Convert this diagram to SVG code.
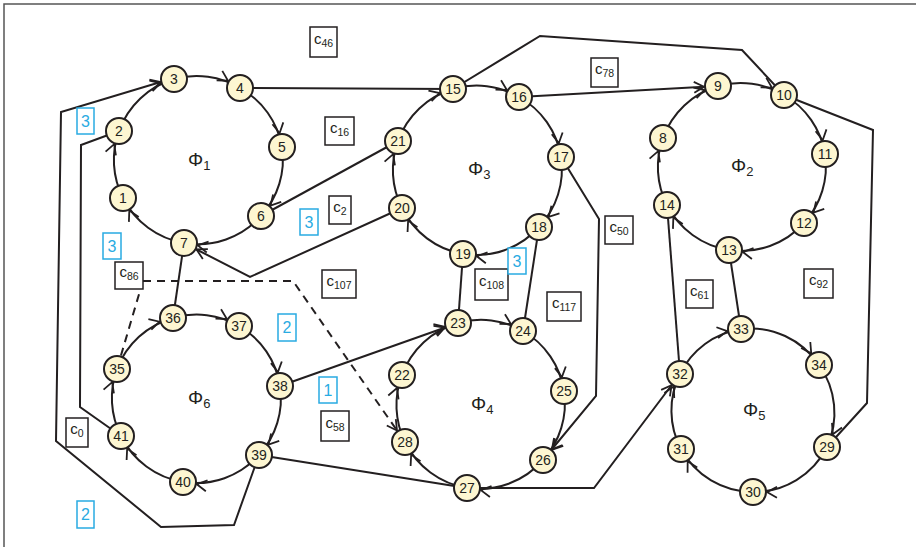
<svg xmlns="http://www.w3.org/2000/svg" width="916" height="547" viewBox="0 0 916 547">
<style>
.ln{fill:none;stroke:#231f20;stroke-width:2;stroke-linejoin:miter}
.arr{marker-end:url(#ah)}
.dash{stroke-dasharray:8,6}
.nd circle{fill:#fdf6d1;stroke:#231f20;stroke-width:2}
.nd text{font-family:"Liberation Sans",Arial,sans-serif;font-size:14px;fill:#231f20;text-anchor:middle}
.phi{font-family:"Liberation Sans",Arial,sans-serif;font-size:19px;fill:#231f20}
.phi tspan{font-size:13px}
.cb rect{fill:#fff;stroke:#231f20;stroke-width:1.5}
.cb text{font-family:"Liberation Sans",Arial,sans-serif;font-size:15px;fill:#231f20;text-anchor:middle}
.cb tspan{font-size:10.5px}
.bb rect{fill:#fff;stroke:#29abe2;stroke-width:1.5}
.bb text{font-family:"Liberation Sans",Arial,sans-serif;font-size:16px;fill:#29abe2;text-anchor:middle}
</style>
<defs>
<marker id="ah" markerUnits="userSpaceOnUse" markerWidth="40" markerHeight="40" viewBox="-20 -20 40 40" refX="14" refY="0" orient="auto" overflow="visible">
<path d="M-10,-5.5 L0,0 L-10,5.5" fill="none" stroke="#231f20" stroke-width="1.8"/>
</marker>
</defs>
<rect width="916" height="547" fill="#fff"/>
<path d="M4,547 L4,4 L916,4" fill="none" stroke="#555" stroke-width="1.5"/>
<g id="connectors">
<!-- ring Phi1 -->
<path class="ln arr" d="M123,198 A84,84 0 0 1 119,131"/>
<path class="ln arr" d="M119,131 A84,84 0 0 1 174,79"/>
<path class="ln arr" d="M174,79 A84,84 0 0 1 240,88"/>
<path class="ln arr" d="M240,88 A84,84 0 0 1 282,147"/>
<path class="ln arr" d="M282,147 A84,84 0 0 1 261,216"/>
<path class="ln arr" d="M261,216 A84,84 0 0 1 184,243"/>
<path class="ln arr" d="M184,243 A84,84 0 0 1 123,198"/>
<!-- ring Phi2 -->
<path class="ln arr" d="M663,138 A84,84 0 0 1 718,86"/>
<path class="ln arr" d="M718,86 A84,84 0 0 1 784,95"/>
<path class="ln arr" d="M784,95 A84,84 0 0 1 825,154"/>
<path class="ln arr" d="M825,154 A84,84 0 0 1 804,223"/>
<path class="ln arr" d="M804,223 A84,84 0 0 1 729,250"/>
<path class="ln arr" d="M729,250 A84,84 0 0 1 667,205"/>
<path class="ln arr" d="M667,205 A84,84 0 0 1 663,138"/>
<!-- ring Phi3 -->
<path class="ln arr" d="M453,89 A84,84 0 0 1 519,97"/>
<path class="ln arr" d="M519,97 A84,84 0 0 1 561,157"/>
<path class="ln arr" d="M561,157 A84,84 0 0 1 539,227"/>
<path class="ln arr" d="M539,227 A84,84 0 0 1 463,254"/>
<path class="ln arr" d="M463,254 A84,84 0 0 1 402,208"/>
<path class="ln arr" d="M402,208 A84,84 0 0 1 398,141"/>
<path class="ln arr" d="M398,141 A84,84 0 0 1 453,89"/>
<!-- ring Phi4 -->
<path class="ln arr" d="M402,375 A84,84 0 0 1 458,323"/>
<path class="ln arr" d="M458,323 A84,84 0 0 1 523,331"/>
<path class="ln arr" d="M523,331 A84,84 0 0 1 564,391"/>
<path class="ln arr" d="M564,391 A84,84 0 0 1 543,460"/>
<path class="ln arr" d="M543,460 A84,84 0 0 1 467,488"/>
<path class="ln arr" d="M467,488 A84,84 0 0 1 405,442"/>
<path class="ln arr" d="M405,442 A84,84 0 0 1 402,375"/>
<!-- ring Phi5 -->
<path class="ln arr" d="M680,374 A82,82 0 0 1 741,329"/>
<path class="ln arr" d="M741,329 A82,82 0 0 1 819,365"/>
<path class="ln arr" d="M819,365 A82,82 0 0 1 827,447"/>
<path class="ln arr" d="M827,447 A82,82 0 0 1 753,492"/>
<path class="ln arr" d="M753,492 A82,82 0 0 1 681,449"/>
<path class="ln arr" d="M681,449 A82,82 0 0 1 680,374"/>
<!-- ring Phi6 -->
<path class="ln arr" d="M117,369 A84,84 0 0 1 173,318"/>
<path class="ln arr" d="M173,318 A84,84 0 0 1 239,326"/>
<path class="ln arr" d="M239,326 A84,84 0 0 1 280,386"/>
<path class="ln arr" d="M280,386 A84,84 0 0 1 259,455"/>
<path class="ln arr" d="M259,455 A84,84 0 0 1 183,482"/>
<path class="ln arr" d="M183,482 A84,84 0 0 1 121,436"/>
<path class="ln arr" d="M121,436 A84,84 0 0 1 117,369"/>
<!-- inter-ring connectors -->
<path class="ln" d="M240,88 L453,89"/>
<path class="ln" d="M453,89 L540,36 L742,50 L784,95"/>
<path class="ln arr" d="M519,97 L718,86"/>
<path class="ln" d="M784,95 L873,130 L867,403 L827,447"/>
<path class="ln arr" d="M561,157 L599,219 L596,396 L543,460"/>
<path class="ln" d="M539,227 L523,331"/>
<path class="ln" d="M463,254 L458,323"/>
<path class="ln" d="M398,141 L261,216"/>
<path class="ln arr" d="M402,208 L250,277 L184,243"/>
<path class="ln" d="M184,243 L173,318"/>
<path class="ln" d="M729,250 L741,329"/>
<path class="ln" d="M667,205 L680,374"/>
<path class="ln arr" d="M280,386 L458,323"/>
<path class="ln" d="M259,455 L467,488"/>
<path class="ln arr" d="M467,488 L594,488 L680,374"/>
<path class="ln arr" d="M259,455 L234,525 L161,527 L56,441 L61,112 L174,78"/>
<path class="ln" d="M121,436 L80,407 L81,145 L119,131"/>
<path class="ln dash" d="M117,369 L142,284"/>
<path class="ln dash arr" d="M143,281 L293,281 L405,442"/>
</g>
<g id="phi-labels">
<text class="phi" x="188" y="166">Φ<tspan dy="4">1</tspan></text>
<text class="phi" x="731" y="172">Φ<tspan dy="4">2</tspan></text>
<text class="phi" x="468" y="175">Φ<tspan dy="4">3</tspan></text>
<text class="phi" x="471" y="410">Φ<tspan dy="4">4</tspan></text>
<text class="phi" x="743" y="416">Φ<tspan dy="4">5</tspan></text>
<text class="phi" x="188" y="404">Φ<tspan dy="4">6</tspan></text>
</g>
<g id="n1" class="nd"><circle cx="123" cy="198" r="13"/><text x="123" y="203">1</text></g>
<g id="n2" class="nd"><circle cx="119" cy="131" r="13"/><text x="119" y="136">2</text></g>
<g id="n3" class="nd"><circle cx="174" cy="79" r="13"/><text x="174" y="84">3</text></g>
<g id="n4" class="nd"><circle cx="240" cy="88" r="13"/><text x="240" y="93">4</text></g>
<g id="n5" class="nd"><circle cx="282" cy="147" r="13"/><text x="282" y="152">5</text></g>
<g id="n6" class="nd"><circle cx="261" cy="216" r="13"/><text x="261" y="221">6</text></g>
<g id="n7" class="nd"><circle cx="184" cy="243" r="13"/><text x="184" y="248">7</text></g>
<g id="n8" class="nd"><circle cx="663" cy="138" r="13"/><text x="663" y="143">8</text></g>
<g id="n9" class="nd"><circle cx="718" cy="86" r="13"/><text x="718" y="91">9</text></g>
<g id="n10" class="nd"><circle cx="784" cy="95" r="13"/><text x="784" y="100">10</text></g>
<g id="n11" class="nd"><circle cx="825" cy="154" r="13"/><text x="825" y="159">11</text></g>
<g id="n12" class="nd"><circle cx="804" cy="223" r="13"/><text x="804" y="228">12</text></g>
<g id="n13" class="nd"><circle cx="729" cy="250" r="13"/><text x="729" y="255">13</text></g>
<g id="n14" class="nd"><circle cx="667" cy="205" r="13"/><text x="667" y="210">14</text></g>
<g id="n15" class="nd"><circle cx="453" cy="89" r="13"/><text x="453" y="94">15</text></g>
<g id="n16" class="nd"><circle cx="519" cy="97" r="13"/><text x="519" y="102">16</text></g>
<g id="n17" class="nd"><circle cx="561" cy="157" r="13"/><text x="561" y="162">17</text></g>
<g id="n18" class="nd"><circle cx="539" cy="227" r="13"/><text x="539" y="232">18</text></g>
<g id="n19" class="nd"><circle cx="463" cy="254" r="13"/><text x="463" y="259">19</text></g>
<g id="n20" class="nd"><circle cx="402" cy="208" r="13"/><text x="402" y="213">20</text></g>
<g id="n21" class="nd"><circle cx="398" cy="141" r="13"/><text x="398" y="146">21</text></g>
<g id="n22" class="nd"><circle cx="402" cy="375" r="13"/><text x="402" y="380">22</text></g>
<g id="n23" class="nd"><circle cx="458" cy="323" r="13"/><text x="458" y="328">23</text></g>
<g id="n24" class="nd"><circle cx="523" cy="331" r="13"/><text x="523" y="336">24</text></g>
<g id="n25" class="nd"><circle cx="564" cy="391" r="13"/><text x="564" y="396">25</text></g>
<g id="n26" class="nd"><circle cx="543" cy="460" r="13"/><text x="543" y="465">26</text></g>
<g id="n27" class="nd"><circle cx="467" cy="488" r="13"/><text x="467" y="493">27</text></g>
<g id="n28" class="nd"><circle cx="405" cy="442" r="13"/><text x="405" y="447">28</text></g>
<g id="n29" class="nd"><circle cx="827" cy="447" r="13"/><text x="827" y="452">29</text></g>
<g id="n30" class="nd"><circle cx="753" cy="492" r="13"/><text x="753" y="497">30</text></g>
<g id="n31" class="nd"><circle cx="681" cy="449" r="13"/><text x="681" y="454">31</text></g>
<g id="n32" class="nd"><circle cx="680" cy="374" r="13"/><text x="680" y="379">32</text></g>
<g id="n33" class="nd"><circle cx="741" cy="329" r="13"/><text x="741" y="334">33</text></g>
<g id="n34" class="nd"><circle cx="819" cy="365" r="13"/><text x="819" y="370">34</text></g>
<g id="n35" class="nd"><circle cx="117" cy="369" r="13"/><text x="117" y="374">35</text></g>
<g id="n36" class="nd"><circle cx="173" cy="318" r="13"/><text x="173" y="323">36</text></g>
<g id="n37" class="nd"><circle cx="239" cy="326" r="13"/><text x="239" y="331">37</text></g>
<g id="n38" class="nd"><circle cx="280" cy="386" r="13"/><text x="280" y="391">38</text></g>
<g id="n39" class="nd"><circle cx="259" cy="455" r="13"/><text x="259" y="460">39</text></g>
<g id="n40" class="nd"><circle cx="183" cy="482" r="13"/><text x="183" y="487">40</text></g>
<g id="n41" class="nd"><circle cx="121" cy="436" r="13"/><text x="121" y="441">41</text></g>
<g id="c46" class="cb"><rect x="310" y="27" width="27" height="30"/><text x="323.5" y="44">c<tspan dy="3">46</tspan></text></g>
<g id="c16" class="cb"><rect x="325" y="117" width="29" height="28"/><text x="339.5" y="133">c<tspan dy="3">16</tspan></text></g>
<g id="c2" class="cb"><rect x="329" y="196" width="22" height="28"/><text x="340" y="212">c<tspan dy="3">2</tspan></text></g>
<g id="c86" class="cb"><rect x="115" y="262" width="28" height="27"/><text x="129" y="277">c<tspan dy="3">86</tspan></text></g>
<g id="c107" class="cb"><rect x="322" y="270" width="34" height="28"/><text x="339" y="286">c<tspan dy="3">107</tspan></text></g>
<g id="c0" class="cb"><rect x="66" y="418" width="22" height="29"/><text x="77" y="434">c<tspan dy="3">0</tspan></text></g>
<g id="c58" class="cb"><rect x="321" y="411" width="28" height="30"/><text x="335" y="428">c<tspan dy="3">58</tspan></text></g>
<g id="c78" class="cb"><rect x="591" y="58" width="27" height="29"/><text x="604.5" y="74">c<tspan dy="3">78</tspan></text></g>
<g id="c50" class="cb"><rect x="605" y="216" width="28" height="28"/><text x="619" y="232">c<tspan dy="3">50</tspan></text></g>
<g id="c108" class="cb"><rect x="475" y="269" width="33" height="31"/><text x="491.5" y="286">c<tspan dy="3">108</tspan></text></g>
<g id="c117" class="cb"><rect x="547" y="292" width="34" height="29"/><text x="564" y="308">c<tspan dy="3">117</tspan></text></g>
<g id="c61" class="cb"><rect x="686" y="280" width="27" height="28"/><text x="699.5" y="296">c<tspan dy="3">61</tspan></text></g>
<g id="c92" class="cb"><rect x="804" y="269" width="29" height="29"/><text x="818.5" y="285">c<tspan dy="3">92</tspan></text></g>
<g id="b1" class="bb"><rect x="77" y="108" width="17" height="26"/><text x="85.5" y="127">3</text></g>
<g id="b2" class="bb"><rect x="103" y="233" width="18" height="26"/><text x="112" y="252">3</text></g>
<g id="b3" class="bb"><rect x="300" y="209" width="18" height="26"/><text x="309" y="228">3</text></g>
<g id="b4" class="bb"><rect x="508" y="248" width="18" height="26"/><text x="517" y="267">3</text></g>
<g id="b5" class="bb"><rect x="278" y="314" width="18" height="27"/><text x="287" y="333">2</text></g>
<g id="b6" class="bb"><rect x="319" y="377" width="18" height="26"/><text x="328" y="396">1</text></g>
<g id="b7" class="bb"><rect x="77" y="501" width="17" height="27"/><text x="85.5" y="520">2</text></g>
</svg>
